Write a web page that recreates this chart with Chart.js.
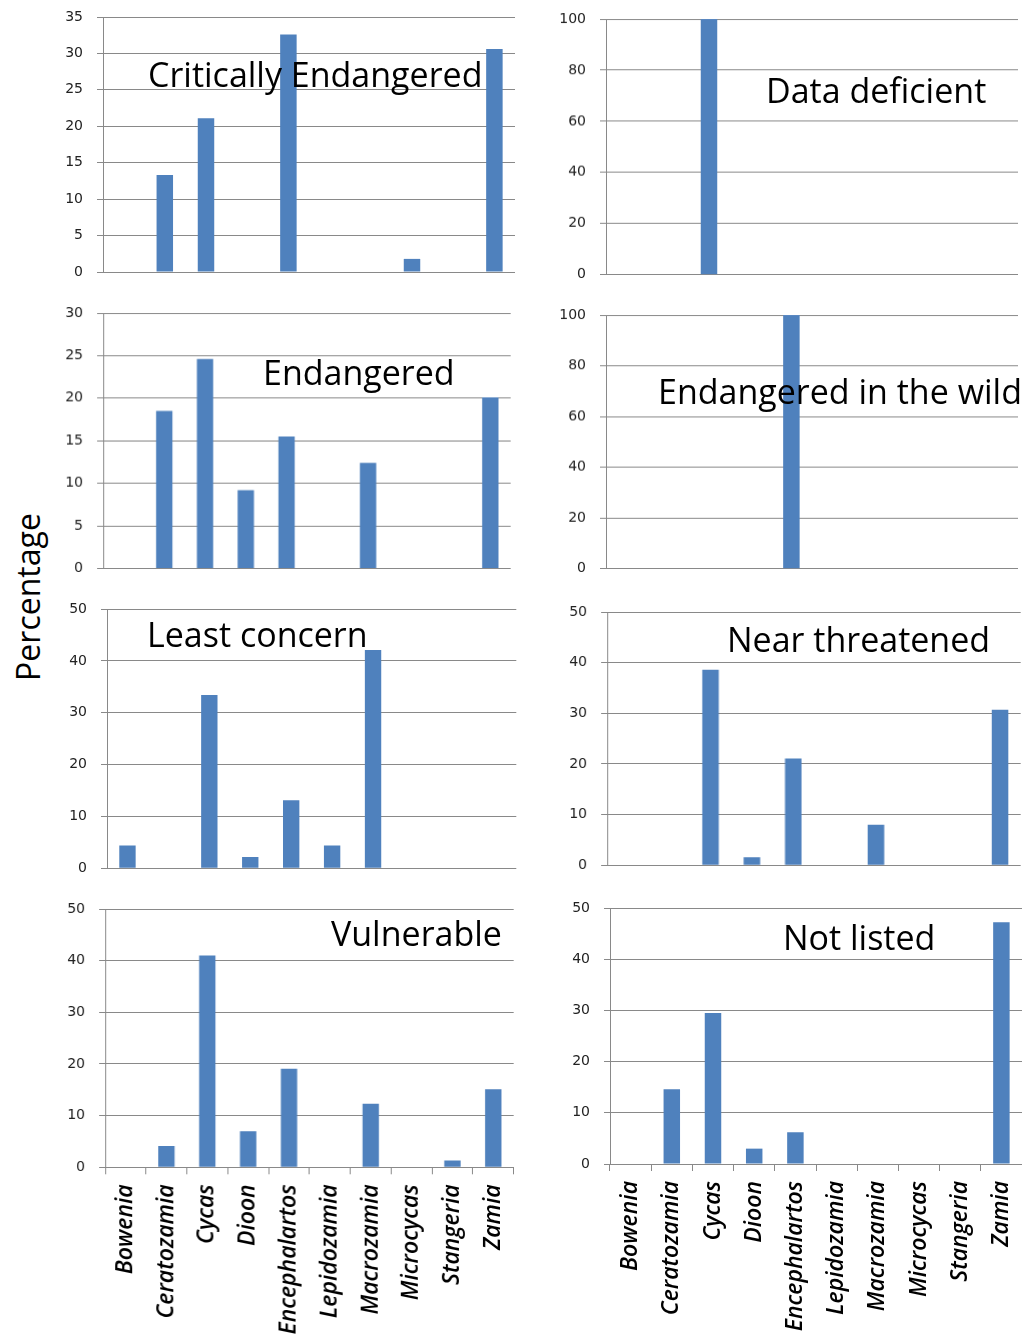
<!DOCTYPE html>
<html>
<head>
<meta charset="utf-8">
<title>Cycad genera by threat category</title>
<script src="https://cdn.jsdelivr.net/npm/chart.js@4.4.1/dist/chart.umd.min.js"></script>
<style>
  html, body { margin: 0; padding: 0; background: #fff; }
  #page { position: relative; width: 1022px; height: 1336px; overflow: hidden; }
  .panel { position: absolute; }
  .title {
    position: absolute;
    font-family: "Open Sans", sans-serif;
    font-size: 34px;
    line-height: 34px;
    color: #000;
    white-space: nowrap;
    pointer-events: none;
  }
  #ylabel {
    position: absolute;
    left: 27px;
    top: 597px;
    transform: translate(-50%, -50%) rotate(-90deg);
    font-family: "Open Sans", sans-serif;
    font-size: 32px;
    white-space: nowrap;
  }
</style>
</head>
<body>
<div id="page">
  <div id="ylabel">Percentage</div>
</div>
<script>
const genera = ['Bowenia', 'Ceratozamia', 'Cycas', 'Dioon', 'Encephalartos',
                'Lepidozamia', 'Macrozamia', 'Microcycas', 'Stangeria', 'Zamia'];

// percentages, one array per category
const criticallyEndangered = [0, 13.3, 21.1, 0, 32.6, 0, 0, 1.8, 0, 30.6];
const dataDeficient        = [0, 0, 100, 0, 0, 0, 0, 0, 0, 0];
const endangered           = [0, 18.5, 24.6, 9.2, 15.5, 0, 12.4, 0, 0, 20.1];
const endangeredInTheWild  = [0, 0, 0, 0, 100, 0, 0, 0, 0, 0];
const leastConcern         = [4.4, 0, 33.4, 2.2, 13.1, 4.4, 42.1, 0, 0, 0];
const nearThreatened       = [0, 0, 38.6, 1.6, 21.1, 0, 8.0, 0, 0, 30.7];
const vulnerable           = [0, 4.1, 41.0, 7.0, 19.1, 0, 12.3, 0, 1.3, 15.1];
const notListed            = [0, 14.6, 29.5, 3.0, 6.2, 0, 0, 0, 0, 47.2];

const panelTitles = ['Critically Endangered', 'Data deficient', 'Endangered', 'Endangered in the wild',
                     'Least concern', 'Near threatened', 'Vulnerable', 'Not listed'];
const panelData = [criticallyEndangered, dataDeficient, endangered, endangeredInTheWild,
                   leastConcern, nearThreatened, vulnerable, notListed];
const yMax  = [35, 100, 30, 100, 50, 50, 50, 50];
const yStep = [5, 20, 5, 20, 10, 10, 10, 10];

// where each plot sits on the page (axis x, top and zero line y, right end) and its title
const layout = [
  { x: 103,   top: 17.3,  bottom: 272.3,  right: 515,  tx: 148, ty: 57 },
  { x: 606,   top: 19.3,  bottom: 274,    right: 1018, tx: 766, ty: 73 },
  { x: 103.3, top: 313.3, bottom: 567.7,  right: 510,  tx: 263, ty: 355 },
  { x: 606,   top: 315,   bottom: 567.7,  right: 1018, tx: 658, ty: 374 },
  { x: 106.7, top: 609,   bottom: 868.3,  right: 516,  tx: 147, ty: 617 },
  { x: 607.3, top: 611.7, bottom: 865,    right: 1020, tx: 727, ty: 622 },
  { x: 105.3, top: 909,   bottom: 1167.3, right: 513,  tx: 331, ty: 916 },
  { x: 610,   top: 908.3, bottom: 1164.3, right: 1022, tx: 783, ty: 920 }
];

const Y_W = 60;     // room for the value labels
const PAD_T = 12;
const PAD_B = 12;   // keeps the "0" label visible on the upper rows
const PAD_R = 2;
const X_H = 170;    // room for the genus labels on the bottom row
const GRID = '#898989';
const BAR = '#4F81BD';

const page = document.getElementById('page');

panelData.forEach(function(values, i) {
  const g = layout[i];
  const bottomRow = i >= 6;
  const plotW = g.right - g.x;
  const plotH = g.bottom - g.top;
  const padB = bottomRow ? 0 : PAD_B;

  const box = document.createElement('div');
  box.className = 'panel';
  box.style.left = (g.x - Y_W) + 'px';
  box.style.top = (g.top - PAD_T) + 'px';
  box.style.width = (Y_W + plotW + PAD_R) + 'px';
  box.style.height = (PAD_T + plotH + (bottomRow ? X_H : padB)) + 'px';
  const canvas = document.createElement('canvas');
  box.appendChild(canvas);
  page.appendChild(box);

  new Chart(canvas.getContext('2d'), {
    type: 'bar',
    data: {
      labels: genera,
      datasets: [{
        label: panelTitles[i],
        data: values,
        backgroundColor: BAR,
        borderWidth: 0,
        barPercentage: 0.4,
        categoryPercentage: 1.0
      }]
    },
    options: {
      responsive: true,
      maintainAspectRatio: false,
      animation: false,
      layout: { autoPadding: false, padding: { top: PAD_T, right: PAD_R, left: 0, bottom: padB } },
      plugins: { legend: { display: false }, tooltip: { enabled: false } },
      scales: {
        x: {
          display: bottomRow,
          offset: true,
          afterFit: function(scale) {
            if (bottomRow) scale.height = X_H;
            scale.paddingLeft = 0;
            scale.paddingRight = 0;
          },
          grid: { offset: true, drawOnChartArea: false, tickLength: 7, color: GRID },
          border: { color: GRID, width: 1 },
          ticks: {
            autoSkip: false,
            maxRotation: 90,
            minRotation: 90,
            padding: 10,
            color: '#000',
            font: { family: 'Open Sans', size: 23, style: 'italic', weight: 600 }
          }
        },
        y: {
          min: 0,
          max: yMax[i],
          afterFit: function(scale) {
            scale.width = Y_W;
            scale.paddingTop = 0;
            scale.paddingBottom = 0;
          },
          grid: { color: GRID, tickLength: 6, lineWidth: 1 },
          border: { color: GRID, width: 1 },
          ticks: {
            stepSize: yStep[i],
            padding: 14,
            color: '#222',
            font: { family: 'DejaVu Sans', size: 14 }
          }
        }
      }
    }
  });

  const t = document.createElement('div');
  t.className = 'title';
  t.textContent = panelTitles[i];
  t.style.left = g.tx + 'px';
  t.style.top = g.ty + 'px';
  page.appendChild(t);
});
</script>
</body>
</html>
